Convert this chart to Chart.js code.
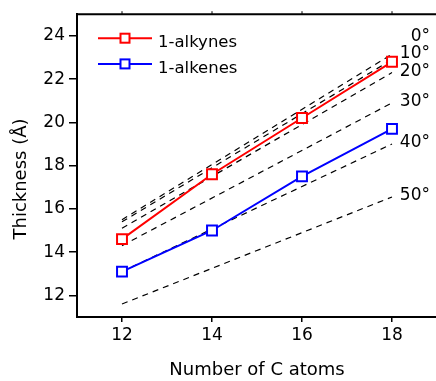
<!DOCTYPE html>
<html>
<head>
<meta charset="utf-8">
<script src="https://cdn.jsdelivr.net/npm/chart.js@4.4.1/dist/chart.umd.min.js"></script>
<style>
  html, body { margin: 0; padding: 0; background: #fff; overflow: hidden; }
  #wrap { width: 436px; height: 381px; overflow: hidden; }
  #box { width: 446px; height: 381px; }
</style>
</head>
<body>
<div id="wrap"><div id="box"><canvas id="thicknessChart"></canvas></div></div>
<script>
// chain length vs. monolayer thickness
const carbons = [12, 14, 16, 18];
const alkynes = [14.6, 17.6, 20.2, 22.8];
const alkenes = [13.1, 15.0, 17.5, 19.7];

// calculated thickness for tilt angles, at C12 and C18
const tiltX = [12, 18];
const tiltAngles = ['0°', '10°', '20°', '30°', '40°', '50°'];
const tiltAtStart = [15.5, 15.4, 15.1, 14.3, 13.1, 11.6];
const tiltAtEnd = [23.15, 22.9, 22.3, 20.9, 19.0, 16.55];

const xTicks = [12, 14, 16, 18];
const yTicks = [12, 14, 16, 18, 20, 22, 24];

const FONT = 'DejaVu Sans, Verdana, sans-serif';

const seriesLegend = [
    { label: '1-alkynes', color: '#ff0000' },
    { label: '1-alkenes', color: '#0000ff' }
];

function solidSeries(label, values, color) {
    return {
        label: label,
        data: carbons.map((c, i) => ({ x: c, y: values[i] })),
        borderColor: color,
        borderWidth: 2,
        backgroundColor: '#ffffff',
        pointStyle: 'rect',
        pointRadius: 7,
        pointBorderWidth: 2,
        pointBorderColor: color,
        pointBackgroundColor: '#ffffff',
        tension: 0
    };
}

const datasets = [
    solidSeries('1-alkynes', alkynes, '#ff0000'),
    solidSeries('1-alkenes', alkenes, '#0000ff')
];

tiltAngles.forEach((a, i) => {
    datasets.push({
        label: a,
        data: [{ x: tiltX[0], y: tiltAtStart[i] }, { x: tiltX[1], y: tiltAtEnd[i] }],
        borderColor: '#000000',
        borderWidth: 1.2,
        borderDash: [6, 5],
        pointRadius: 0,
        fill: false
    });
});

// frame, legend, angle labels and axis titles
const decorations = {
    id: 'decorations',
    afterDraw(chart) {
        const ctx = chart.ctx;
        const area = chart.chartArea;
        const xs = chart.scales.x;
        const ys = chart.scales.y;

        ctx.save();
        ctx.strokeStyle = '#000';
        ctx.lineWidth = 2;
        ctx.beginPath();
        ctx.moveTo(area.left, area.top);
        ctx.lineTo(area.right, area.top);
        ctx.lineTo(area.right, area.bottom);
        ctx.stroke();

        ctx.lineWidth = 1;
        xTicks.forEach(t => {
            const px = xs.getPixelForValue(t);
            ctx.beginPath();
            ctx.moveTo(px, area.top);
            ctx.lineTo(px, area.top - 3);
            ctx.stroke();
        });

        // legend
        seriesLegend.forEach((s, i) => {
            const y = area.top + 24 + i * 25.7;
            const x0 = area.left + 21;
            const x1 = area.left + 75;
            ctx.strokeStyle = s.color;
            ctx.lineWidth = 2;
            ctx.beginPath();
            ctx.moveTo(x0, y);
            ctx.lineTo(x1, y);
            ctx.stroke();
            const cx = (x0 + x1) / 2;
            ctx.fillStyle = '#fff';
            ctx.fillRect(cx - 4.5, y - 4.5, 9, 9);
            ctx.strokeRect(cx - 4.5, y - 4.5, 9, 9);
            ctx.fillStyle = '#000';
            ctx.font = '16.5px ' + FONT;
            ctx.textAlign = 'left';
            ctx.textBaseline = 'alphabetic';
            ctx.fillText(s.label, area.left + 81, y + 8.7);
        });

        // angle labels, stacked upwards so they do not collide
        ctx.font = '17px ' + FONT;
        ctx.textAlign = 'right';
        ctx.fillStyle = '#000';
        const lx = xs.getPixelForValue(tiltX[1]) + 38;
        let prev = Infinity;
        for (let i = tiltAngles.length - 1; i >= 0; i--) {
            let base = ys.getPixelForValue(tiltAtEnd[i]) + 3;
            base = Math.min(base, prev - 17.5);
            ctx.fillText(tiltAngles[i], lx, base);
            prev = base;
        }

        // axis titles
        ctx.font = '18px ' + FONT;
        ctx.textAlign = 'center';
        ctx.textBaseline = 'middle';
        ctx.fillText('Number of C atoms', (area.left + area.right) / 2, 370);
        ctx.translate(21, 179);
        ctx.rotate(-Math.PI / 2);
        ctx.fillText('Thickness (Å)', 0, 0);
        ctx.restore();
    }
};

new Chart(document.getElementById('thicknessChart'), {
    type: 'line',
    data: { datasets: datasets },
    plugins: [decorations],
    options: {
        responsive: true,
        maintainAspectRatio: false,
        animation: false,
        devicePixelRatio: 1,
        layout: { padding: { top: 13, right: 6, left: 0, bottom: 0 } },
        plugins: {
            legend: { display: false },
            tooltip: { enabled: false }
        },
        scales: {
            x: {
                type: 'linear',
                min: 11,
                max: 19,
                afterBuildTicks: s => { s.ticks = xTicks.map(v => ({ value: v })); },
                afterFit: s => { s.height = 64; },
                grid: {
                    drawOnChartArea: false,
                    drawTicks: true,
                    tickLength: 5,
                    color: '#000',
                    lineWidth: 1.5
                },
                border: { display: true, color: '#000', width: 2 },
                ticks: {
                    color: '#000',
                    padding: 3,
                    maxRotation: 0,
                    font: { family: FONT, size: 17 }
                }
            },
            y: {
                min: 11,
                max: 25,
                afterBuildTicks: s => { s.ticks = yTicks.map(v => ({ value: v })); },
                afterFit: s => { s.width = 77; },
                grid: {
                    drawOnChartArea: false,
                    drawTicks: true,
                    tickLength: 8,
                    color: '#000',
                    lineWidth: 1.5
                },
                border: { display: true, color: '#000', width: 2 },
                ticks: {
                    color: '#000',
                    padding: 4,
                    font: { family: FONT, size: 17 }
                }
            }
        }
    }
});
</script>
</body>
</html>
